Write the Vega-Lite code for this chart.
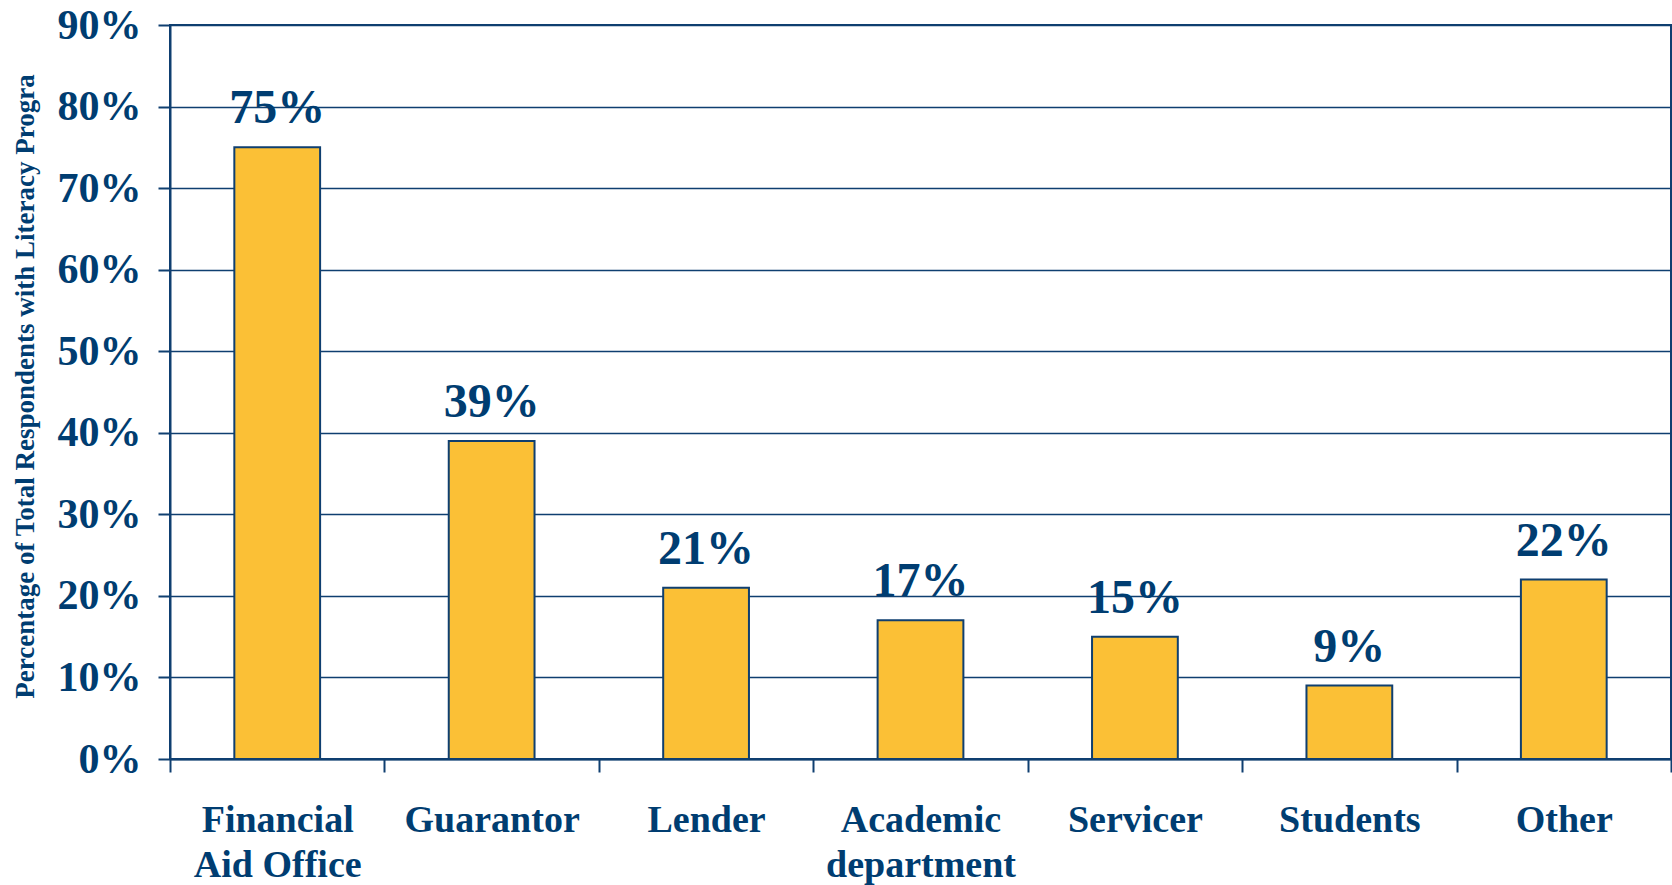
{
  "$schema": "https://vega.github.io/schema/vega-lite/v6.json",
  "width": 1501,
  "height": 734,
  "autosize": {"type": "none"},
  "padding": {"left": 170, "top": 25, "right": 1, "bottom": 126},
  "background": "white",
  "data": {
    "values": [
      {"source": "Financial Aid Office", "pct": 0.75},
      {"source": "Guarantor", "pct": 0.39},
      {"source": "Lender", "pct": 0.21},
      {"source": "Academic department", "pct": 0.17},
      {"source": "Servicer", "pct": 0.15},
      {"source": "Students", "pct": 0.09},
      {"source": "Other", "pct": 0.22}
    ]
  },
  "config": {
    "view": {"stroke": "#0f3f70", "strokeWidth": 2},
    "axis": {
      "labelFont": "Liberation Serif",
      "labelFontWeight": "bold",
      "labelColor": "#003d71",
      "titleFont": "Liberation Serif",
      "titleFontWeight": "bold",
      "titleColor": "#003d71",
      "domainColor": "#0f3f70",
      "domainWidth": 2,
      "tickColor": "#0f3f70",
      "tickWidth": 2,
      "gridColor": "#0f3f70",
      "gridWidth": 1.5,
      "gridOpacity": 1,
      "domainOpacity": 1
    }
  },
  "encoding": {
    "x": {
      "field": "source",
      "type": "nominal",
      "sort": null,
      "scale": {"paddingInner": 0, "paddingOuter": 0},
      "axis": {
        "title": null,
        "labelAngle": 0,
        "labelFontSize": 38,
        "labelLineHeight": 45,
        "labelBaseline": "top",
        "tickBand": "extent",
        "tickSize": 13,
        "labelPadding": 29,
        "labelLimit": 400,
        "labelExpr": "datum.label == 'Financial Aid Office' ? ['Financial', 'Aid Office'] : datum.label == 'Academic department' ? ['Academic', 'department'] : datum.label"
      }
    },
    "y": {
      "field": "pct",
      "type": "quantitative",
      "scale": {"domain": [0, 0.9], "nice": false},
      "axis": {
        "values": [0, 0.1, 0.2, 0.3, 0.4, 0.5, 0.6, 0.7, 0.8, 0.9],
        "format": ".0%",
        "labelFontSize": 42,
        "labelPadding": 17,
        "tickSize": 12,
        "grid": true,
        "title": "Percentage of Total Respondents with Literacy Progra",
        "titleFontSize": 27,
        "titleAngle": -90,
        "titleX": -145,
        "titleY": 361,
        "titleAlign": "center",
        "titleBaseline": "middle"
      }
    }
  },
  "layer": [
    {
      "mark": {"type": "bar", "width": {"band": 0.4}, "fill": "#fbc036", "stroke": "#0f3f70", "strokeWidth": 2}
    },
    {
      "mark": {
        "type": "text",
        "baseline": "alphabetic",
        "dy": -24,
        "font": "Liberation Serif",
        "fontWeight": "bold",
        "fontSize": 48,
        "color": "#003d71"
      },
      "encoding": {
        "text": {"field": "pct", "type": "quantitative", "format": ".0%"}
      }
    }
  ]
}
